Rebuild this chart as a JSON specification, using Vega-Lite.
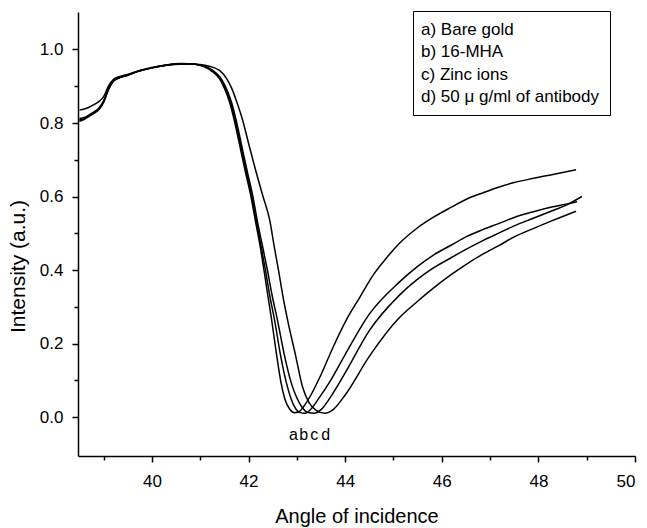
{
  "$schema": "https://vega.github.io/schema/vega-lite/v6.json",
  "width": 557,
  "height": 444,
  "autosize": {"type": "none"},
  "padding": {"left": 78, "top": 12, "right": 12, "bottom": 72},
  "background": "white",
  "config": {
    "view": {"stroke": null},
    "font": "Liberation Sans",
    "axis": {
      "grid": false,
      "domainColor": "black",
      "tickColor": "black",
      "labelColor": "black",
      "titleColor": "black",
      "labelFont": "Liberation Sans",
      "titleFont": "Liberation Sans",
      "labelFontSize": 17,
      "titleFontSize": 20,
      "titleFontWeight": "normal",
      "domainWidth": 1.5,
      "tickWidth": 1.5
    }
  },
  "datasets": {
    "curves": [
      {"sample": "a) Bare gold", "angle": 38.5, "intensity": 0.812},
      {"sample": "a) Bare gold", "angle": 38.6, "intensity": 0.815},
      {"sample": "a) Bare gold", "angle": 38.7, "intensity": 0.822},
      {"sample": "a) Bare gold", "angle": 38.8, "intensity": 0.83},
      {"sample": "a) Bare gold", "angle": 38.9, "intensity": 0.84},
      {"sample": "a) Bare gold", "angle": 39.0, "intensity": 0.86},
      {"sample": "a) Bare gold", "angle": 39.1, "intensity": 0.893},
      {"sample": "a) Bare gold", "angle": 39.2, "intensity": 0.915},
      {"sample": "a) Bare gold", "angle": 39.3, "intensity": 0.922},
      {"sample": "a) Bare gold", "angle": 39.5, "intensity": 0.93},
      {"sample": "a) Bare gold", "angle": 39.7, "intensity": 0.94},
      {"sample": "a) Bare gold", "angle": 40.0, "intensity": 0.95},
      {"sample": "a) Bare gold", "angle": 40.3, "intensity": 0.958},
      {"sample": "a) Bare gold", "angle": 40.6, "intensity": 0.962},
      {"sample": "a) Bare gold", "angle": 40.9, "intensity": 0.96},
      {"sample": "a) Bare gold", "angle": 41.1, "intensity": 0.952},
      {"sample": "a) Bare gold", "angle": 41.25, "intensity": 0.94},
      {"sample": "a) Bare gold", "angle": 41.4, "intensity": 0.92},
      {"sample": "a) Bare gold", "angle": 41.5, "intensity": 0.895},
      {"sample": "a) Bare gold", "angle": 41.6, "intensity": 0.86},
      {"sample": "a) Bare gold", "angle": 41.7, "intensity": 0.81},
      {"sample": "a) Bare gold", "angle": 41.8, "intensity": 0.75},
      {"sample": "a) Bare gold", "angle": 41.93, "intensity": 0.67},
      {"sample": "a) Bare gold", "angle": 42.05, "intensity": 0.6},
      {"sample": "a) Bare gold", "angle": 42.14, "intensity": 0.535},
      {"sample": "a) Bare gold", "angle": 42.24, "intensity": 0.465},
      {"sample": "a) Bare gold", "angle": 42.32, "intensity": 0.4},
      {"sample": "a) Bare gold", "angle": 42.4, "intensity": 0.33},
      {"sample": "a) Bare gold", "angle": 42.48, "intensity": 0.263},
      {"sample": "a) Bare gold", "angle": 42.58, "intensity": 0.17},
      {"sample": "a) Bare gold", "angle": 42.67, "intensity": 0.095},
      {"sample": "a) Bare gold", "angle": 42.75, "intensity": 0.05},
      {"sample": "a) Bare gold", "angle": 42.85, "intensity": 0.022},
      {"sample": "a) Bare gold", "angle": 42.95, "intensity": 0.012},
      {"sample": "a) Bare gold", "angle": 43.05, "intensity": 0.015},
      {"sample": "a) Bare gold", "angle": 43.15, "intensity": 0.03},
      {"sample": "a) Bare gold", "angle": 43.3, "intensity": 0.062},
      {"sample": "a) Bare gold", "angle": 43.5, "intensity": 0.115},
      {"sample": "a) Bare gold", "angle": 43.75, "intensity": 0.19},
      {"sample": "a) Bare gold", "angle": 44.02, "intensity": 0.263},
      {"sample": "a) Bare gold", "angle": 44.3, "intensity": 0.325},
      {"sample": "a) Bare gold", "angle": 44.6, "intensity": 0.39},
      {"sample": "a) Bare gold", "angle": 44.85, "intensity": 0.432},
      {"sample": "a) Bare gold", "angle": 45.12, "intensity": 0.472},
      {"sample": "a) Bare gold", "angle": 45.5, "intensity": 0.515},
      {"sample": "a) Bare gold", "angle": 45.82, "intensity": 0.543},
      {"sample": "a) Bare gold", "angle": 46.2, "intensity": 0.571},
      {"sample": "a) Bare gold", "angle": 46.5, "intensity": 0.592},
      {"sample": "a) Bare gold", "angle": 46.85, "intensity": 0.61},
      {"sample": "a) Bare gold", "angle": 47.19, "intensity": 0.626},
      {"sample": "a) Bare gold", "angle": 47.5, "intensity": 0.638},
      {"sample": "a) Bare gold", "angle": 47.88, "intensity": 0.649},
      {"sample": "a) Bare gold", "angle": 48.3, "intensity": 0.66},
      {"sample": "a) Bare gold", "angle": 48.78, "intensity": 0.673},

      {"sample": "b) 16-MHA", "angle": 38.5, "intensity": 0.808},
      {"sample": "b) 16-MHA", "angle": 38.6, "intensity": 0.812},
      {"sample": "b) 16-MHA", "angle": 38.7, "intensity": 0.82},
      {"sample": "b) 16-MHA", "angle": 38.8, "intensity": 0.828},
      {"sample": "b) 16-MHA", "angle": 38.9, "intensity": 0.838},
      {"sample": "b) 16-MHA", "angle": 39.0, "intensity": 0.858},
      {"sample": "b) 16-MHA", "angle": 39.1, "intensity": 0.892},
      {"sample": "b) 16-MHA", "angle": 39.2, "intensity": 0.914},
      {"sample": "b) 16-MHA", "angle": 39.3, "intensity": 0.922},
      {"sample": "b) 16-MHA", "angle": 39.5, "intensity": 0.931},
      {"sample": "b) 16-MHA", "angle": 39.7, "intensity": 0.941},
      {"sample": "b) 16-MHA", "angle": 40.0, "intensity": 0.951},
      {"sample": "b) 16-MHA", "angle": 40.3, "intensity": 0.958},
      {"sample": "b) 16-MHA", "angle": 40.6, "intensity": 0.961},
      {"sample": "b) 16-MHA", "angle": 40.9, "intensity": 0.96},
      {"sample": "b) 16-MHA", "angle": 41.1, "intensity": 0.953},
      {"sample": "b) 16-MHA", "angle": 41.25, "intensity": 0.942},
      {"sample": "b) 16-MHA", "angle": 41.4, "intensity": 0.923},
      {"sample": "b) 16-MHA", "angle": 41.5, "intensity": 0.9},
      {"sample": "b) 16-MHA", "angle": 41.62, "intensity": 0.86},
      {"sample": "b) 16-MHA", "angle": 41.72, "intensity": 0.81},
      {"sample": "b) 16-MHA", "angle": 41.82, "intensity": 0.75},
      {"sample": "b) 16-MHA", "angle": 41.95, "intensity": 0.67},
      {"sample": "b) 16-MHA", "angle": 42.07, "intensity": 0.6},
      {"sample": "b) 16-MHA", "angle": 42.16, "intensity": 0.535},
      {"sample": "b) 16-MHA", "angle": 42.26, "intensity": 0.465},
      {"sample": "b) 16-MHA", "angle": 42.35, "intensity": 0.4},
      {"sample": "b) 16-MHA", "angle": 42.44, "intensity": 0.33},
      {"sample": "b) 16-MHA", "angle": 42.54, "intensity": 0.263},
      {"sample": "b) 16-MHA", "angle": 42.66, "intensity": 0.17},
      {"sample": "b) 16-MHA", "angle": 42.78, "intensity": 0.095},
      {"sample": "b) 16-MHA", "angle": 42.88, "intensity": 0.05},
      {"sample": "b) 16-MHA", "angle": 42.98, "intensity": 0.022},
      {"sample": "b) 16-MHA", "angle": 43.07, "intensity": 0.012},
      {"sample": "b) 16-MHA", "angle": 43.16, "intensity": 0.01},
      {"sample": "b) 16-MHA", "angle": 43.28, "intensity": 0.02},
      {"sample": "b) 16-MHA", "angle": 43.45, "intensity": 0.05},
      {"sample": "b) 16-MHA", "angle": 43.7, "intensity": 0.1},
      {"sample": "b) 16-MHA", "angle": 44.0, "intensity": 0.17},
      {"sample": "b) 16-MHA", "angle": 44.5, "intensity": 0.28},
      {"sample": "b) 16-MHA", "angle": 45.12, "intensity": 0.367},
      {"sample": "b) 16-MHA", "angle": 45.5, "intensity": 0.41},
      {"sample": "b) 16-MHA", "angle": 45.82, "intensity": 0.44},
      {"sample": "b) 16-MHA", "angle": 46.2, "intensity": 0.468},
      {"sample": "b) 16-MHA", "angle": 46.5, "intensity": 0.49},
      {"sample": "b) 16-MHA", "angle": 46.85, "intensity": 0.51},
      {"sample": "b) 16-MHA", "angle": 47.19, "intensity": 0.527},
      {"sample": "b) 16-MHA", "angle": 47.5, "intensity": 0.543},
      {"sample": "b) 16-MHA", "angle": 47.88, "intensity": 0.558},
      {"sample": "b) 16-MHA", "angle": 48.3, "intensity": 0.572},
      {"sample": "b) 16-MHA", "angle": 48.6, "intensity": 0.58},
      {"sample": "b) 16-MHA", "angle": 48.8, "intensity": 0.586},

      {"sample": "c) Zinc ions", "angle": 38.5, "intensity": 0.805},
      {"sample": "c) Zinc ions", "angle": 38.6, "intensity": 0.81},
      {"sample": "c) Zinc ions", "angle": 38.7, "intensity": 0.818},
      {"sample": "c) Zinc ions", "angle": 38.8, "intensity": 0.826},
      {"sample": "c) Zinc ions", "angle": 38.9, "intensity": 0.836},
      {"sample": "c) Zinc ions", "angle": 39.0, "intensity": 0.856},
      {"sample": "c) Zinc ions", "angle": 39.1, "intensity": 0.89},
      {"sample": "c) Zinc ions", "angle": 39.2, "intensity": 0.913},
      {"sample": "c) Zinc ions", "angle": 39.3, "intensity": 0.921},
      {"sample": "c) Zinc ions", "angle": 39.5, "intensity": 0.93},
      {"sample": "c) Zinc ions", "angle": 39.7, "intensity": 0.94},
      {"sample": "c) Zinc ions", "angle": 40.0, "intensity": 0.95},
      {"sample": "c) Zinc ions", "angle": 40.3, "intensity": 0.957},
      {"sample": "c) Zinc ions", "angle": 40.6, "intensity": 0.961},
      {"sample": "c) Zinc ions", "angle": 40.9, "intensity": 0.96},
      {"sample": "c) Zinc ions", "angle": 41.1, "intensity": 0.954},
      {"sample": "c) Zinc ions", "angle": 41.25, "intensity": 0.944},
      {"sample": "c) Zinc ions", "angle": 41.42, "intensity": 0.923},
      {"sample": "c) Zinc ions", "angle": 41.52, "intensity": 0.9},
      {"sample": "c) Zinc ions", "angle": 41.64, "intensity": 0.86},
      {"sample": "c) Zinc ions", "angle": 41.74, "intensity": 0.81},
      {"sample": "c) Zinc ions", "angle": 41.84, "intensity": 0.75},
      {"sample": "c) Zinc ions", "angle": 41.97, "intensity": 0.67},
      {"sample": "c) Zinc ions", "angle": 42.09, "intensity": 0.6},
      {"sample": "c) Zinc ions", "angle": 42.18, "intensity": 0.535},
      {"sample": "c) Zinc ions", "angle": 42.29, "intensity": 0.465},
      {"sample": "c) Zinc ions", "angle": 42.39, "intensity": 0.4},
      {"sample": "c) Zinc ions", "angle": 42.49, "intensity": 0.33},
      {"sample": "c) Zinc ions", "angle": 42.6, "intensity": 0.263},
      {"sample": "c) Zinc ions", "angle": 42.74, "intensity": 0.17},
      {"sample": "c) Zinc ions", "angle": 42.88, "intensity": 0.095},
      {"sample": "c) Zinc ions", "angle": 42.99, "intensity": 0.055},
      {"sample": "c) Zinc ions", "angle": 43.1, "intensity": 0.028},
      {"sample": "c) Zinc ions", "angle": 43.22, "intensity": 0.013},
      {"sample": "c) Zinc ions", "angle": 43.36, "intensity": 0.01},
      {"sample": "c) Zinc ions", "angle": 43.5, "intensity": 0.02},
      {"sample": "c) Zinc ions", "angle": 43.7, "intensity": 0.055},
      {"sample": "c) Zinc ions", "angle": 44.0, "intensity": 0.12},
      {"sample": "c) Zinc ions", "angle": 44.5, "intensity": 0.235},
      {"sample": "c) Zinc ions", "angle": 45.12, "intensity": 0.331},
      {"sample": "c) Zinc ions", "angle": 45.5, "intensity": 0.375},
      {"sample": "c) Zinc ions", "angle": 45.82, "intensity": 0.405},
      {"sample": "c) Zinc ions", "angle": 46.2, "intensity": 0.434},
      {"sample": "c) Zinc ions", "angle": 46.5, "intensity": 0.456},
      {"sample": "c) Zinc ions", "angle": 46.85, "intensity": 0.48},
      {"sample": "c) Zinc ions", "angle": 47.19, "intensity": 0.501},
      {"sample": "c) Zinc ions", "angle": 47.5, "intensity": 0.52},
      {"sample": "c) Zinc ions", "angle": 47.88, "intensity": 0.54},
      {"sample": "c) Zinc ions", "angle": 48.3, "intensity": 0.562},
      {"sample": "c) Zinc ions", "angle": 48.6, "intensity": 0.578},
      {"sample": "c) Zinc ions", "angle": 48.9, "intensity": 0.6},

      {"sample": "d) 50 μ g/ml of antibody", "angle": 38.5, "intensity": 0.835},
      {"sample": "d) 50 μ g/ml of antibody", "angle": 38.6, "intensity": 0.838},
      {"sample": "d) 50 μ g/ml of antibody", "angle": 38.7, "intensity": 0.843},
      {"sample": "d) 50 μ g/ml of antibody", "angle": 38.8, "intensity": 0.85},
      {"sample": "d) 50 μ g/ml of antibody", "angle": 38.9, "intensity": 0.858},
      {"sample": "d) 50 μ g/ml of antibody", "angle": 39.0, "intensity": 0.872},
      {"sample": "d) 50 μ g/ml of antibody", "angle": 39.1, "intensity": 0.9},
      {"sample": "d) 50 μ g/ml of antibody", "angle": 39.2, "intensity": 0.918},
      {"sample": "d) 50 μ g/ml of antibody", "angle": 39.3, "intensity": 0.925},
      {"sample": "d) 50 μ g/ml of antibody", "angle": 39.5, "intensity": 0.932},
      {"sample": "d) 50 μ g/ml of antibody", "angle": 39.7, "intensity": 0.94},
      {"sample": "d) 50 μ g/ml of antibody", "angle": 40.0, "intensity": 0.95},
      {"sample": "d) 50 μ g/ml of antibody", "angle": 40.3, "intensity": 0.957},
      {"sample": "d) 50 μ g/ml of antibody", "angle": 40.6, "intensity": 0.96},
      {"sample": "d) 50 μ g/ml of antibody", "angle": 40.9, "intensity": 0.96},
      {"sample": "d) 50 μ g/ml of antibody", "angle": 41.1, "intensity": 0.957},
      {"sample": "d) 50 μ g/ml of antibody", "angle": 41.25, "intensity": 0.952},
      {"sample": "d) 50 μ g/ml of antibody", "angle": 41.4, "intensity": 0.943},
      {"sample": "d) 50 μ g/ml of antibody", "angle": 41.55, "intensity": 0.92},
      {"sample": "d) 50 μ g/ml of antibody", "angle": 41.65, "intensity": 0.895},
      {"sample": "d) 50 μ g/ml of antibody", "angle": 41.75, "intensity": 0.86},
      {"sample": "d) 50 μ g/ml of antibody", "angle": 41.88, "intensity": 0.807},
      {"sample": "d) 50 μ g/ml of antibody", "angle": 42.0, "intensity": 0.745},
      {"sample": "d) 50 μ g/ml of antibody", "angle": 42.15, "intensity": 0.67},
      {"sample": "d) 50 μ g/ml of antibody", "angle": 42.3, "intensity": 0.6},
      {"sample": "d) 50 μ g/ml of antibody", "angle": 42.44, "intensity": 0.535},
      {"sample": "d) 50 μ g/ml of antibody", "angle": 42.53, "intensity": 0.465},
      {"sample": "d) 50 μ g/ml of antibody", "angle": 42.62, "intensity": 0.4},
      {"sample": "d) 50 μ g/ml of antibody", "angle": 42.71, "intensity": 0.33},
      {"sample": "d) 50 μ g/ml of antibody", "angle": 42.81, "intensity": 0.263},
      {"sample": "d) 50 μ g/ml of antibody", "angle": 42.97, "intensity": 0.17},
      {"sample": "d) 50 μ g/ml of antibody", "angle": 43.12, "intensity": 0.081},
      {"sample": "d) 50 μ g/ml of antibody", "angle": 43.25, "intensity": 0.04},
      {"sample": "d) 50 μ g/ml of antibody", "angle": 43.4, "intensity": 0.018},
      {"sample": "d) 50 μ g/ml of antibody", "angle": 43.58, "intensity": 0.01},
      {"sample": "d) 50 μ g/ml of antibody", "angle": 43.75, "intensity": 0.02},
      {"sample": "d) 50 μ g/ml of antibody", "angle": 44.0, "intensity": 0.06},
      {"sample": "d) 50 μ g/ml of antibody", "angle": 44.5, "intensity": 0.165},
      {"sample": "d) 50 μ g/ml of antibody", "angle": 45.12, "intensity": 0.27},
      {"sample": "d) 50 μ g/ml of antibody", "angle": 45.5, "intensity": 0.315},
      {"sample": "d) 50 μ g/ml of antibody", "angle": 45.82, "intensity": 0.35},
      {"sample": "d) 50 μ g/ml of antibody", "angle": 46.2, "intensity": 0.388},
      {"sample": "d) 50 μ g/ml of antibody", "angle": 46.5, "intensity": 0.415},
      {"sample": "d) 50 μ g/ml of antibody", "angle": 46.85, "intensity": 0.443},
      {"sample": "d) 50 μ g/ml of antibody", "angle": 47.19, "intensity": 0.467},
      {"sample": "d) 50 μ g/ml of antibody", "angle": 47.5, "intensity": 0.49},
      {"sample": "d) 50 μ g/ml of antibody", "angle": 47.88, "intensity": 0.512},
      {"sample": "d) 50 μ g/ml of antibody", "angle": 48.3, "intensity": 0.535},
      {"sample": "d) 50 μ g/ml of antibody", "angle": 48.78, "intensity": 0.56}
    ],
    "letters": [
      {"letter": "a", "angle": 42.93, "intensity": -0.05},
      {"letter": "b", "angle": 43.14, "intensity": -0.05},
      {"letter": "c", "angle": 43.36, "intensity": -0.05},
      {"letter": "d", "angle": 43.6, "intensity": -0.05}
    ]
  },
  "layer": [
    {
      "data": {"name": "curves"},
      "mark": {"type": "line", "strokeWidth": 1.5, "interpolate": "monotone"},
      "encoding": {
        "x": {
          "field": "angle", "type": "quantitative",
          "scale": {"domain": [38.47, 50], "nice": false, "zero": false},
          "axis": {"values": [40, 42, 44, 46, 48, 50], "format": "d", "title": "Angle of incidence", "tickSize": 6, "labelPadding": 11, "titleY": 50}
        },
        "y": {
          "field": "intensity", "type": "quantitative",
          "scale": {"domain": [-0.106, 1.102], "nice": false, "zero": false},
          "axis": {"values": [0, 0.2, 0.4, 0.6, 0.8, 1.0], "format": ".1f", "title": "Intensity (a.u.)", "titleFontSize": 21, "tickSize": 6, "labelPadding": 9, "titleX": -50, "titleY": 254}
        },
        "color": {
          "field": "sample", "type": "nominal",
          "scale": {"domain": ["a) Bare gold", "b) 16-MHA", "c) Zinc ions", "d) 50 μ g/ml of antibody"], "range": ["black", "black", "black", "black"]},
          "legend": {
            "title": null, "orient": "none", "legendX": 335, "legendY": -1,
            "symbolType": "circle", "symbolSize": 0, "symbolStrokeWidth": 0, "symbolOpacity": 0, "labelOffset": -19,
            "labelFont": "Liberation Sans", "labelFontSize": 17, "labelColor": "black", "labelLimit": 400,
            "strokeColor": "black", "fillColor": "white", "padding": 10, "rowPadding": 4.5
          }
        }
      }
    },
    {
      "data": {"name": "letters"},
      "mark": {"type": "text", "fontSize": 16, "font": "Liberation Sans", "color": "black"},
      "encoding": {
        "x": {"field": "angle", "type": "quantitative", "axis": {"values": [39, 41, 43, 45, 47, 49], "labels": false, "domain": false, "title": null, "tickSize": 4, "orient": "bottom"}},
        "y": {"field": "intensity", "type": "quantitative", "axis": {"values": [0.1, 0.3, 0.5, 0.7, 0.9], "labels": false, "domain": false, "title": null, "tickSize": 4, "orient": "left"}},
        "text": {"field": "letter"}
      }
    }
  ],
  "resolve": {"axis": {"x": "independent", "y": "independent"}}
}
